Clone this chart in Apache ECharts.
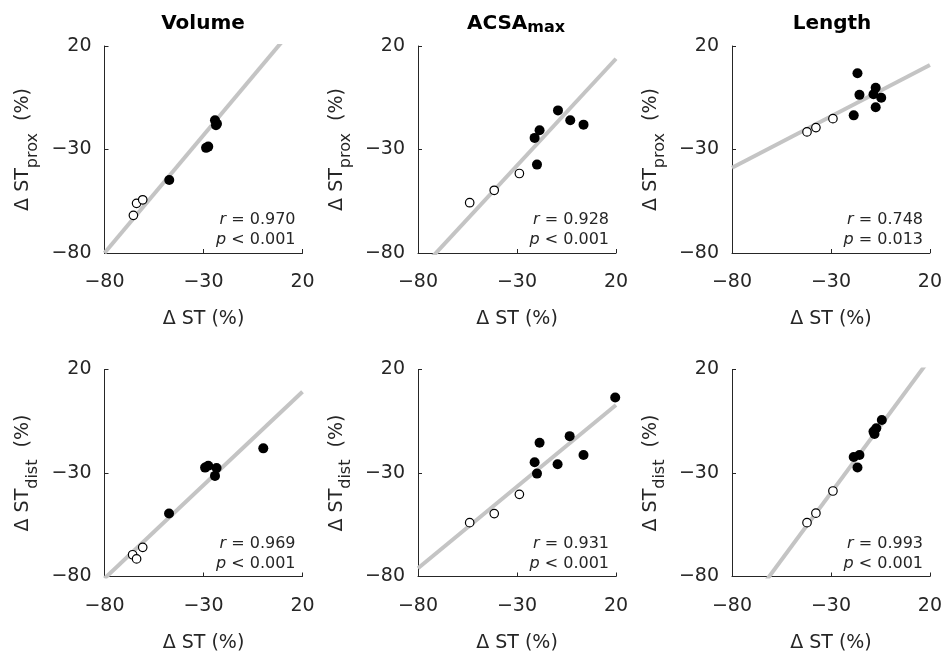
<!DOCTYPE html>
<html><head><meta charset="utf-8">
<script src="https://cdn.jsdelivr.net/npm/echarts@6/dist/echarts.min.js"></script>
<style>html,body{margin:0;padding:0;background:#fff}#c{width:945px;height:655px}</style>
</head><body><div id="c"></div>
<script>
// ---------- data ----------
const columnTitles = ['Volume', 'ACSA', 'Length'];
const titleSub = ['', 'max', ''];
const rowSub = ['prox', 'dist'];
const axisMin = -80, axisMax = 20, axisStep = 50;

// filled (black) and open (white) points, [ΔST, ΔST_region]
const volProxFilled = [[-24.2,-15.9],[-23.7,-18.3],[-23.2,-17.6],[-28.7,-29.2],[-27.6,-28.6],[-47.3,-44.7]];
const volProxOpen   = [[-65.4,-61.8],[-63.8,-56.0],[-60.7,-54.3]];
const acsaProxFilled = [[-9.3,-11.1],[-3.1,-15.9],[3.6,-18.0],[-18.6,-20.7],[-21.1,-24.4],[-19.9,-37.3]];
const acsaProxOpen   = [[-53.9,-55.7],[-41.5,-49.7],[-28.8,-41.6]];
const lenProxFilled = [[-16.6,6.8],[-15.6,-3.6],[-7.4,-0.2],[-8.5,-3.3],[-4.6,-5.0],[-7.4,-9.6],[-18.5,-13.5]];
const lenProxOpen   = [[-42.1,-21.5],[-37.6,-19.4],[-29.0,-15.1]];
const volDistFilled = [[-29.2,-27.4],[-27.6,-26.5],[-23.4,-27.6],[-24.2,-31.4],[0.2,-18.1],[-47.4,-49.6]];
const volDistOpen   = [[-60.7,-65.9],[-65.8,-69.5],[-63.8,-71.5]];
const acsaDistFilled = [[19.6,6.5],[-3.4,-12.2],[-18.6,-15.4],[3.6,-21.3],[-21.1,-24.8],[-9.5,-25.8],[-19.9,-30.3]];
const acsaDistOpen   = [[-53.9,-54.0],[-41.5,-49.6],[-28.8,-40.3]];
const lenDistFilled = [[-4.3,-4.4],[-7.1,-8.4],[-8.0,-11.2],[-8.5,-10.0],[-15.6,-21.3],[-18.5,-22.3],[-16.6,-27.3]];
const lenDistOpen   = [[-42.1,-54.0],[-37.6,-49.4],[-29.0,-38.7]];

const filledSets = [volProxFilled, acsaProxFilled, lenProxFilled, volDistFilled, acsaDistFilled, lenDistFilled];
const openSets   = [volProxOpen, acsaProxOpen, lenProxOpen, volDistOpen, acsaDistOpen, lenDistOpen];

// regression lines y = slope*x + intercept
const fitSlope     = [1.139, 1.032, 0.497, 0.902, 0.789, 1.295];
const fitIntercept = [11.1, -6.8, 0.9, -8.8, -12.9, -0.75];
const rValues = ['0.970', '0.928', '0.748', '0.969', '0.931', '0.993'];
const pTexts  = ['< 0.001', '< 0.001', '= 0.013', '< 0.001', '< 0.001', '< 0.001'];

// ---------- layout ----------
const FONT = 'DejaVu Sans';
const TXT = '#262626';
const gridLeft = [104.5, 418, 732];
const gridTop = [46, 369.5];
const GW = 198, GH = 207;

const grids = [], xAxes = [], yAxes = [], series = [], titles = [];
for (let i = 0; i < 6; i++) {
  const col = i % 3, row = Math.floor(i / 3);
  const L = gridLeft[col], T = gridTop[row];
  grids.push({ left: L, top: T, width: GW, height: GH, containLabel: false });
  const axisCommon = {
    gridIndex: i, type: 'value', min: axisMin, max: axisMax, interval: axisStep,
    axisLine: { show: true, onZero: false, lineStyle: { color: TXT, width: 1 } },
    axisTick: { show: true, inside: true, length: 4, lineStyle: { color: TXT } },
    splitLine: { show: false },
    axisLabel: { color: TXT, fontFamily: FONT, fontSize: 19,
      formatter: v => (v < 0 ? '\u2212' + Math.abs(v) : String(v)) }
  };
  xAxes.push(Object.assign({}, axisCommon, {
    axisLabel: Object.assign({}, axisCommon.axisLabel, { margin: 20 }),
    name: 'Δ ST (%)', nameLocation: 'middle', nameGap: 57,
    nameTextStyle: { color: TXT, fontFamily: FONT, fontSize: 19 }
  }));
  yAxes.push(Object.assign({}, axisCommon, {
    axisLabel: Object.assign({}, axisCommon.axisLabel, { margin: 13 }),
    name: '{m|Δ ST}{s|' + rowSub[row] + '}{m|  (%)}', nameLocation: 'middle', nameGap: 64, nameRotate: 90,
    nameTextStyle: { color: TXT, fontFamily: FONT, fontSize: 19,
      rich: {
        m: { fontFamily: FONT, fontSize: 19, lineHeight: 34, color: TXT },
        s: { fontFamily: FONT, fontSize: 16, lineHeight: 2, verticalAlign: 'bottom', color: TXT }
      } }
  }));
  const s = fitSlope[i], b = fitIntercept[i];
  series.push({
    type: 'line', xAxisIndex: i, yAxisIndex: i, clip: true, symbol: 'none', silent: true, z: 1,
    lineStyle: { color: '#c4c4c4', width: 4 },
    data: [[axisMin, s * axisMin + b], [axisMax, s * axisMax + b]]
  });
  series.push({
    type: 'scatter', xAxisIndex: i, yAxisIndex: i, z: 3, symbol: 'circle', symbolSize: 10,
    itemStyle: { color: '#000', opacity: 1 }, data: filledSets[i]
  });
  series.push({
    type: 'scatter', xAxisIndex: i, yAxisIndex: i, z: 3, symbol: 'circle', symbolSize: 8.5,
    itemStyle: { color: '#fff', borderColor: '#000', borderWidth: 1.2, opacity: 1 }, data: openSets[i]
  });
  // statistics
  titles.push({
    text: '{i|r} = ' + rValues[i] + '\n{i|p} ' + pTexts[i],
    left: L + GW - 7, top: T + GH - 43, padding: 0, textAlign: 'right',
    textStyle: { fontFamily: FONT, fontSize: 16, fontWeight: 'normal', color: TXT, lineHeight: 20,
      rich: { i: { fontFamily: FONT, fontSize: 16, fontStyle: 'italic', color: TXT, lineHeight: 20 } } }
  });
}
// column titles
const titleCenters = [203, 516, 832];
for (let c = 0; c < 3; c++) {
  const txt = titleSub[c] ? '{m|' + columnTitles[c] + '}{s|' + titleSub[c] + '}' : '{m|' + columnTitles[c] + '}';
  titles.push({
    text: txt, left: titleCenters[c], top: 12, padding: 0, textAlign: 'center',
    textStyle: { fontFamily: FONT, fontSize: 20, fontWeight: 'bold', color: '#000',
      rich: {
        m: { fontFamily: FONT, fontSize: 20, fontWeight: 'bold', color: '#000', lineHeight: 24 },
        s: { fontFamily: FONT, fontSize: 16, fontWeight: 'bold', color: '#000', lineHeight: 16, verticalAlign: 'bottom' }
      } }
  });
}

const chart = echarts.init(document.getElementById('c'), null, { renderer: 'canvas' });
chart.setOption({
  animation: false,
  backgroundColor: '#fff',
  title: titles,
  grid: grids, xAxis: xAxes, yAxis: yAxes, series: series
});
</script>
</body></html>
